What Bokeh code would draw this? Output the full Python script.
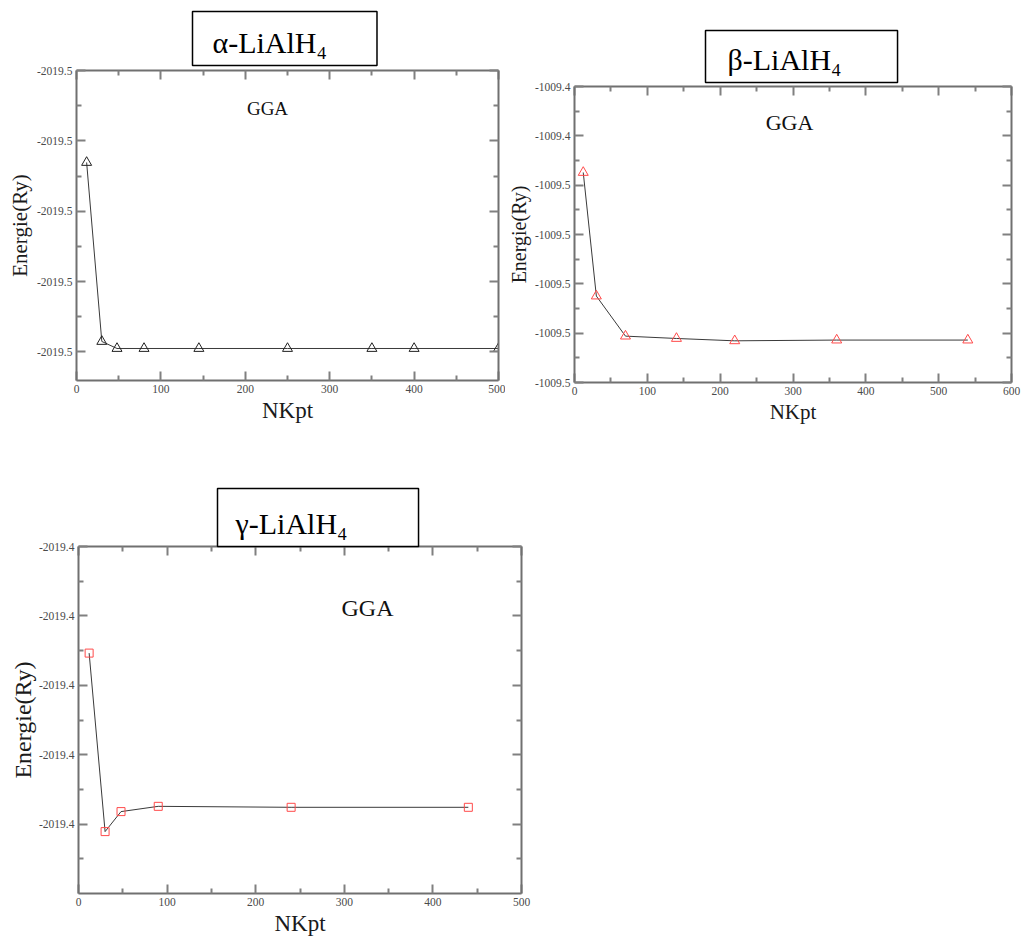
from bokeh.plotting import figure
from bokeh.models import (Range1d, FixedTicker, PrintfTickFormatter, LinearAxis,
                          Label, Title, CustomLabelingPolicy)
from bokeh.layouts import column, row
from bokeh.embed import file_html
from bokeh.resources import INLINE

SERIF = "Liberation Serif"

# ---- alpha-LiAlH4 (GGA) : total energy vs number of k-points ----
alpha_nk = [12, 30, 48, 80, 145, 250, 350, 400, 500]
alpha_e = [-2019.48523, -2019.49541, -2019.49581, -2019.49581, -2019.49581,
           -2019.49581, -2019.49581, -2019.49581, -2019.49581]
alpha_yticks = [-2019.480, -2019.484, -2019.488, -2019.492, -2019.496]
alpha_yminor = [-2019.482, -2019.486, -2019.490, -2019.494]
alpha_yrange = (-2019.49763, -2019.480)
alpha_xticks = [0, 100, 200, 300, 400, 500]
alpha_xminor = [50, 150, 250, 350, 450]
alpha_xrange = (0, 500)

# ---- beta-LiAlH4 (GGA) ----
beta_nk = [12, 30, 70, 140, 220, 360, 540]
beta_e = [-1009.44997, -1009.45999, -1009.46324, -1009.46343, -1009.46362,
          -1009.46356, -1009.46356]
beta_yticks = [-1009.443, -1009.447, -1009.451, -1009.455, -1009.459,
               -1009.463, -1009.467]
beta_yminor = [-1009.445, -1009.449, -1009.453, -1009.457, -1009.461, -1009.465]
beta_yrange = (-1009.467, -1009.443)
beta_xticks = [0, 100, 200, 300, 400, 500, 600]
beta_xminor = [50, 150, 250, 350, 450, 550]
beta_xrange = (0, 600)

# ---- gamma-LiAlH4 (GGA) ----
gamma_nk = [12, 30, 48, 90, 240, 440]
gamma_e = [-2019.40768, -2019.42054, -2019.41910, -2019.41872, -2019.41879,
           -2019.41879]
gamma_yticks = [-2019.400, -2019.405, -2019.410, -2019.415, -2019.420]
gamma_yminor = [-2019.4025, -2019.4075, -2019.4125, -2019.4175, -2019.4225]
gamma_yrange = (-2019.425, -2019.400)
gamma_xticks = [0, 100, 200, 300, 400, 500]
gamma_xminor = [50, 150, 250, 350, 450]
gamma_xrange = (0, 500)

FRAME = "#707070"
TICK = "#808080"
TICKLABEL = "#4a4a4a"


def style_axis(ax, ticker, show_labels):
    ax.ticker = ticker
    ax.axis_line_color = FRAME
    ax.axis_line_width = 2
    ax.major_tick_in = 9
    ax.major_tick_out = 0
    ax.minor_tick_in = 5
    ax.minor_tick_out = 0
    ax.major_tick_line_color = TICK
    ax.major_tick_line_width = 2
    ax.minor_tick_line_color = TICK
    ax.minor_tick_line_width = 2
    if show_labels:
        ax.major_label_text_font = SERIF
        ax.major_label_text_font_size = "11.5px"
        ax.major_label_text_color = TICKLABEL
        ax.major_label_standoff = 4
    else:
        # mirrored side: tick marks only, no labels
        ax.major_label_text_font_size = "0px"
        ax.major_label_standoff = 0
        ax.major_label_policy = CustomLabelingPolicy(code="return new Set()")


def make_panel(width, height, borders, xr, yr, xt, xm, yt, ym,
               xlabel_size, ylabel_size, xlabel_standoff, ylabel_standoff):
    left, right, top, bottom = borders
    p = figure(width=width, height=height, output_backend="svg", title=None,
               toolbar_location=None, x_range=Range1d(*xr), y_range=Range1d(*yr),
               min_border_left=left, min_border_right=right,
               min_border_top=top, min_border_bottom=bottom)
    p.grid.visible = False
    p.outline_line_color = None
    p.background_fill_color = "white"
    p.border_fill_color = "white"

    xa = p.xaxis[0]
    ya = p.yaxis[0]
    style_axis(xa, FixedTicker(ticks=xt, minor_ticks=xm), True)
    style_axis(ya, FixedTicker(ticks=yt, minor_ticks=ym), True)
    ya.formatter = PrintfTickFormatter(format="%.1f")

    xa.axis_label = "NKpt"
    xa.axis_label_text_font = SERIF
    xa.axis_label_text_font_style = "normal"
    xa.axis_label_text_font_size = xlabel_size
    xa.axis_label_text_color = "#1a1a1a"
    xa.axis_label_standoff = xlabel_standoff

    ya.axis_label = "Energie(Ry)"
    ya.axis_label_text_font = SERIF
    ya.axis_label_text_font_style = "normal"
    ya.axis_label_text_font_size = ylabel_size
    ya.axis_label_text_color = "#1a1a1a"
    ya.axis_label_standoff = ylabel_standoff

    # mirrored tick marks on the top and right sides of the frame
    ax_top = LinearAxis()
    style_axis(ax_top, FixedTicker(ticks=xt, minor_ticks=xm), False)
    p.add_layout(ax_top, "above")
    ax_right = LinearAxis()
    style_axis(ax_right, FixedTicker(ticks=yt, minor_ticks=ym), False)
    p.add_layout(ax_right, "right")
    return p


def add_title(p, text, offset, standoff, pad):
    # boxed phase name above the frame
    p.add_layout(Title(text=text, align="left", offset=offset, standoff=standoff,
                       text_font=SERIF, text_font_size="30px",
                       text_font_style="normal", text_color="black",
                       background_fill_color="white", border_line_color="black",
                       border_line_width=1.5, padding=pad), "above")


def add_gga(p, x, y, size):
    p.add_layout(Label(x=x, y=y, x_units="screen", y_units="screen", text="GGA",
                       text_font=SERIF, text_font_size=size, text_color="#111111",
                       text_baseline="alphabetic", text_align="center"))


# alpha panel
pa = make_panel(505, 440, (76, 7, 70, 60), alpha_xrange, alpha_yrange,
                alpha_xticks, alpha_xminor, alpha_yticks, alpha_yminor,
                "23px", "21px", 2, 2)
pa.line(alpha_nk, alpha_e, line_color="#3a3a3a", line_width=1)
pa.scatter(alpha_nk, alpha_e, marker="triangle", size=10, fill_color=None,
           line_color="#222222", line_width=1)
add_gga(pa, 191, 272, "19px")
add_title(pa, "α-LiAlH₄", 116, 10, dict(left=20, right=50, top=14, bottom=7))

# beta panel
pb = make_panel(517, 440, (69, 11, 86, 58), beta_xrange, beta_yrange,
                beta_xticks, beta_xminor, beta_yticks, beta_yminor,
                "21px", "20px", 2, 2)
pb.line(beta_nk, beta_e, line_color="#3a3a3a", line_width=1)
pb.scatter(beta_nk, beta_e, marker="triangle", size=10, fill_color=None,
           line_color="#ff4a4a", line_width=1)
add_gga(pb, 215, 260, "22px")
add_title(pb, "β-LiAlH₄", 131, 8, dict(left=22, right=56, top=12, bottom=7))

# gamma panel
pg = make_panel(540, 498, (78, 19, 106, 45), gamma_xrange, gamma_yrange,
                gamma_xticks, gamma_xminor, gamma_yticks, gamma_yminor,
                "23px", "24px", 2, 0)
pg.line(gamma_nk, gamma_e, line_color="#3a3a3a", line_width=1)
pg.scatter(gamma_nk, gamma_e, marker="square", size=8, fill_color=None,
           line_color="#ff4a4a", line_width=1)
add_gga(pg, 289, 286, "24px")
add_title(pg, "γ-LiAlH₄", 139, 0, dict(left=18, right=71, top=18, bottom=7))

layout = column(row(column(pa), column(pb)), pg)

open("out.html", "w").write(file_html(layout, INLINE))
